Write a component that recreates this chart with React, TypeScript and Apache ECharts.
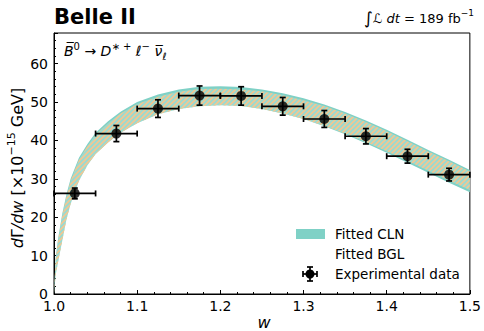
import React, { useEffect, useRef } from "react";
import * as echarts from "echarts";

// Fit band sample points (w) and band edges
const wGrid = [1.0, 1.002, 1.005, 1.01, 1.015, 1.02, 1.03, 1.04, 1.05, 1.065, 1.08, 1.1, 1.125, 1.15, 1.175, 1.2, 1.225, 1.25, 1.275, 1.3, 1.325, 1.35, 1.375, 1.4, 1.425, 1.45, 1.475, 1.5];
const clnUpper = [0.5, 9.5, 14.5, 21, 26, 30, 35.5, 39, 42, 45, 47.5, 50, 52, 53.3, 54, 54.1, 53.9, 53.3, 52.3, 51, 49.4, 47.4, 45.2, 42.8, 40.2, 37.5, 35, 32.3];
const clnLower = [0, 5, 8.5, 14, 19.5, 23.5, 29.5, 33.5, 36.5, 39.5, 42, 44.5, 46.8, 48.2, 48.9, 49.2, 49, 48.2, 47, 45.6, 43.7, 41.6, 39.3, 36.8, 34.2, 31.6, 29, 26.5];
const bglUpper = [0.3, 9, 14, 20.5, 25.5, 29.5, 35, 38.5, 41.5, 44.5, 47, 49.5, 51.4, 52.7, 53.4, 53.5, 53.3, 52.8, 51.8, 50.5, 49.0, 47.0, 44.8, 42.4, 39.8, 37.1, 34.6, 31.9];
const bglLower = [0, 5, 8.5, 14, 19.5, 23.5, 29.5, 33.5, 36.5, 39.5, 42, 44.5, 46.8, 48.2, 48.9, 49.2, 49, 48.2, 47, 45.6, 43.8, 41.8, 39.6, 37.2, 34.7, 32.1, 29.6, 27.1];

// Measured points
const binCenters = [1.025, 1.075, 1.125, 1.175, 1.225, 1.275, 1.325, 1.375, 1.425, 1.475];
const binHalfWidth = 0.025;
const measured = [26.2, 41.8, 48.3, 51.7, 51.6, 48.9, 45.6, 41.1, 35.9, 31.1];
const errors = [1.4, 2.1, 2.3, 2.5, 2.4, 2.3, 2.2, 2.0, 1.8, 1.65];

const xTicks = [1.0, 1.1, 1.2, 1.3, 1.4, 1.5];
const yTicks = [0, 10, 20, 30, 40, 50, 60];

const FONT = "DejaVu Sans";
const TEAL = "#7fd1c6";

function makeHatch(): HTMLCanvasElement {
  const c = document.createElement("canvas");
  c.width = 5;
  c.height = 5;
  const ctx = c.getContext("2d")!;
  ctx.fillStyle = "rgba(255,255,255,0.2)";
  ctx.fillRect(0, 0, 5, 5);
  ctx.strokeStyle = "#f2c792";
  ctx.lineWidth = 1.6;
  ctx.beginPath();
  ctx.moveTo(0, 5);
  ctx.lineTo(5, 0);
  ctx.moveTo(-2.5, 2.5);
  ctx.lineTo(2.5, -2.5);
  ctx.moveTo(2.5, 7.5);
  ctx.lineTo(7.5, 2.5);
  ctx.stroke();
  return c;
}

function bandSeries(upper: number[], lower: number[], fill: any, z: number) {
  return {
    type: "custom",
    silent: true,
    clip: true,
    z,
    data: [[1.25, 30]],
    renderItem: (_params: any, api: any) => {
      const pts: number[][] = [];
      for (let i = 0; i < wGrid.length; i++) pts.push(api.coord([wGrid[i], upper[i]]));
      for (let i = wGrid.length - 1; i >= 0; i--) pts.push(api.coord([wGrid[i], lower[i]]));
      return { type: "polygon", shape: { points: pts }, style: { fill, stroke: null } };
    },
  };
}

export default function App() {
  const ref = useRef<HTMLDivElement>(null);
  useEffect(() => {
    if (!ref.current) return;
    const chart = echarts.init(ref.current, undefined, { renderer: "svg" });
    const hatch = { image: makeHatch(), repeat: "repeat" };

    const option: any = {
      animation: false,
      backgroundColor: "#fff",
      grid: {
        left: 54,
        right: 10,
        top: 33,
        bottom: 37,
        show: true,
        borderColor: "#000",
        borderWidth: 1,
        backgroundColor: "transparent",
      },
      xAxis: {
        type: "value",
        min: xTicks[0],
        max: xTicks[xTicks.length - 1],
        interval: 0.1,
        axisLine: { show: true, lineStyle: { color: "#000", width: 1 } },
        axisTick: { show: true, inside: true, length: 4, lineStyle: { color: "#000" } },
        minorTick: { show: true, splitNumber: 5, length: 2, lineStyle: { color: "#000" } },
        splitLine: { show: false },
        axisLabel: {
          color: "#000",
          fontFamily: FONT,
          fontSize: 14,
          margin: 5,
          formatter: (v: number) => v.toFixed(1),
        },
      },
      yAxis: {
        type: "value",
        min: 0,
        max: 68,
        interval: 10,
        axisLine: { show: true, lineStyle: { color: "#000", width: 1 } },
        axisTick: { show: true, inside: true, length: 4, lineStyle: { color: "#000" } },
        minorTick: { show: true, splitNumber: 5, length: 2, lineStyle: { color: "#000" } },
        splitLine: { show: false },
        axisLabel: {
          color: "#000",
          fontFamily: FONT,
          fontSize: 14,
          margin: 6,
          formatter: (v: number) => (yTicks.includes(v) ? String(v) : ""),
        },
      },
      series: [
        bandSeries(clnUpper, clnLower, TEAL, 1),
        bandSeries(bglUpper, bglLower, hatch, 2),
        {
          type: "custom",
          z: 5,
          data: binCenters.map((w, i) => [w, measured[i], errors[i]]),
          renderItem: (_params: any, api: any) => {
            const w = api.value(0);
            const v = api.value(1);
            const e = api.value(2);
            const l = api.coord([w - binHalfWidth, v]);
            const r = api.coord([w + binHalfWidth, v]);
            const t = api.coord([w, v + e]);
            const b = api.coord([w, v - e]);
            const cap = 3;
            const st = { stroke: "#000", lineWidth: 1.7 };
            const mk = (x1: number, y1: number, x2: number, y2: number) => ({
              type: "line",
              shape: { x1, y1, x2, y2 },
              style: st,
            });
            return {
              type: "group",
              children: [
                mk(l[0], l[1], r[0], r[1]),
                mk(t[0], t[1], b[0], b[1]),
                mk(l[0], l[1] - cap, l[0], l[1] + cap),
                mk(r[0], r[1] - cap, r[0], r[1] + cap),
                mk(t[0] - cap, t[1], t[0] + cap, t[1]),
                mk(b[0] - cap, b[1], b[0] + cap, b[1]),
              ],
            };
          },
        },
        {
          type: "scatter",
          z: 6,
          symbol: "circle",
          symbolSize: 10,
          itemStyle: { color: "#000" },
          data: binCenters.map((w, i) => [w, measured[i]]),
        },
      ],
      graphic: [
        {
          type: "text",
          left: 54,
          top: 6,
          style: { text: "Belle II", font: `bold 21px "${FONT}"`, fill: "#000" },
        },
        {
          type: "text",
          x: 474,
          y: 18,
          style: {
            text: "{int|∫}{it|ℒ dt} = 189 fb{sup|−1}",
            align: "right",
            verticalAlign: "middle",
            fill: "#000",
            fontFamily: FONT,
            fontSize: 13,
            rich: {
              int: { fontSize: 17, fontFamily: FONT, lineHeight: 20 },
              it: { fontStyle: "italic", fontSize: 13, fontFamily: FONT },
              sup: { fontSize: 9, fontFamily: FONT, verticalAlign: "top", lineHeight: 11 },
            },
          },
        },
        {
          type: "text",
          x: 64,
          y: 51,
          style: {
            text: "{it|B̅}{sup|0} → {it|D}{sup|∗ +}{it| ℓ}{sup|−} {it|ν̅}{sub|ℓ}",
            verticalAlign: "middle",
            fill: "#000",
            fontFamily: FONT,
            fontSize: 14,
            rich: {
              it: { fontStyle: "italic", fontSize: 14, fontFamily: FONT, lineHeight: 20 },
              sup: { fontSize: 10, fontFamily: FONT, verticalAlign: "top", lineHeight: 12 },
              sub: { fontSize: 10, fontStyle: "italic", fontFamily: FONT, verticalAlign: "bottom", lineHeight: 12 },
            },
          },
        },
        {
          type: "text",
          x: 17,
          y: 168,
          rotation: Math.PI / 2,
          style: {
            text: "{it|d}Γ{it|/dw} [×10{sup|−15} GeV]",
            align: "center",
            verticalAlign: "middle",
            fill: "#000",
            fontFamily: FONT,
            fontSize: 16,
            rich: {
              it: { fontStyle: "italic", fontSize: 16, fontFamily: FONT, lineHeight: 22 },
              sup: { fontSize: 11, fontFamily: FONT, verticalAlign: "top", lineHeight: 13 },
            },
          },
        },
        {
          type: "text",
          x: 264,
          y: 322,
          style: {
            text: "w",
            align: "center",
            verticalAlign: "middle",
            fill: "#000",
            font: `italic 16px "${FONT}"`,
          },
        },
        // Legend
        {
          type: "rect",
          shape: { x: 296, y: 229, width: 29, height: 10 },
          style: { fill: TEAL },
        },
        {
          type: "text",
          x: 335,
          y: 234,
          style: { text: "Fitted CLN", verticalAlign: "middle", fill: "#000", font: `13.5px "${FONT}"` },
        },
        {
          type: "text",
          x: 335,
          y: 254,
          style: { text: "Fitted BGL", verticalAlign: "middle", fill: "#000", font: `13.5px "${FONT}"` },
        },
        {
          type: "group",
          x: 310,
          y: 274,
          children: [
            { type: "line", shape: { x1: -7, y1: 0, x2: 7, y2: 0 }, style: { stroke: "#000", lineWidth: 1.7 } },
            { type: "line", shape: { x1: 0, y1: -7, x2: 0, y2: 7 }, style: { stroke: "#000", lineWidth: 1.7 } },
            { type: "line", shape: { x1: -7, y1: -3, x2: -7, y2: 3 }, style: { stroke: "#000", lineWidth: 1.7 } },
            { type: "line", shape: { x1: 7, y1: -3, x2: 7, y2: 3 }, style: { stroke: "#000", lineWidth: 1.7 } },
            { type: "line", shape: { x1: -3, y1: -7, x2: 3, y2: -7 }, style: { stroke: "#000", lineWidth: 1.7 } },
            { type: "line", shape: { x1: -3, y1: 7, x2: 3, y2: 7 }, style: { stroke: "#000", lineWidth: 1.7 } },
            { type: "circle", shape: { cx: 0, cy: 0, r: 4.5 }, style: { fill: "#000" } },
          ],
        },
        {
          type: "text",
          x: 335,
          y: 274,
          style: { text: "Experimental data", verticalAlign: "middle", fill: "#000", font: `13.5px "${FONT}"` },
        },
      ],
    };
    chart.setOption(option);
    return () => chart.dispose();
  }, []);
  return <div ref={ref} style={{ width: 484, height: 331, position: "absolute", left: 0, top: 0 }} />;
}
